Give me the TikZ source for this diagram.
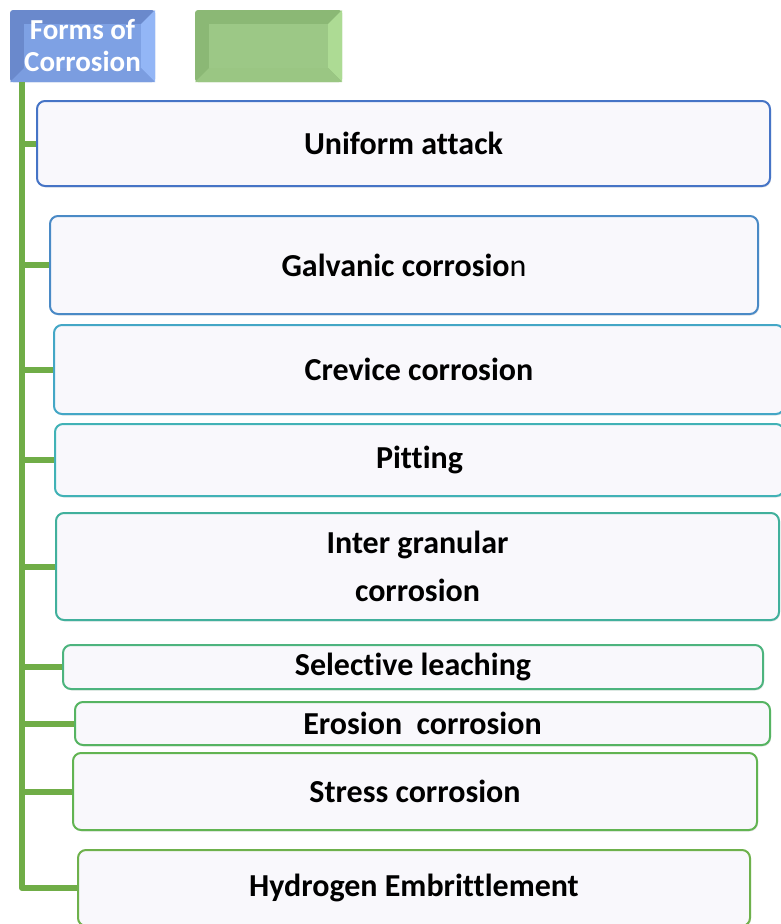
\documentclass[tikz,border=0pt]{standalone}
\usepackage{fontspec}
\setmainfont{Carlito}[Ligatures=NoCommon]
\usetikzlibrary{shadows}
\definecolor{trunkgreen}{HTML}{70AD47}
\definecolor{boxfill}{HTML}{F9F8FC}
\definecolor{cA}{HTML}{4674C6}
\definecolor{cB}{HTML}{4A8AC6}
\definecolor{cC}{HTML}{44A7C6}
\definecolor{cD}{HTML}{41B2B6}
\definecolor{cE}{HTML}{41B09C}
\definecolor{cF}{HTML}{4DB47E}
\definecolor{cG}{HTML}{56B462}
\definecolor{cH}{HTML}{62B452}
\definecolor{cI}{HTML}{6EB14C}
\definecolor{headmid}{HTML}{7EA1E4}
\definecolor{headdark}{HTML}{6A89CC}
\definecolor{headlight}{HTML}{93B6F6}
\definecolor{blankmid}{HTML}{9CC886}
\definecolor{blankdark}{HTML}{8BB875}
\definecolor{blanklight}{HTML}{ADDB94}
\tikzset{
  item/.style={draw, fill=boxfill, line width=2pt, rounded corners=8pt, align=center,
    inner sep=0pt, drop shadow={opacity=0.18, shadow xshift=1pt, shadow yshift=-1.5pt}},
  trunk/.style={draw=trunkgreen, line width=6pt}
}
\begin{document}
\begin{tikzpicture}[x=1pt, y=-1pt, line join=round, line cap=round,
    font=\bfseries\fontsize{32}{48}\selectfont]
  \useasboundingbox (0,0) rectangle (781,924);
  % bevelled header boxes
  \fill[headdark, rounded corners=3pt] (10,10) rectangle (155,82);
  \fill[headlight] (155,10) -- (141,24) -- (141,68) -- (155,82) -- cycle;
  \fill[headmid] (24,24) rectangle (141,68);
  \fill[headmid!85!headdark] (10,82) -- (24,68) -- (141,68) -- (155,82) -- cycle;
  \node[minimum width=145pt, minimum height=72pt, inner sep=0pt, align=center, text=white,
    font=\bfseries\fontsize{29}{32}\selectfont] (head) at (82.5,46) {Forms of\\Corrosion};
  \fill[blankdark, rounded corners=3pt] (195,10) rectangle (342,82);
  \fill[blanklight] (342,10) -- (328,24) -- (328,68) -- (342,82) -- cycle;
  \fill[blankmid] (209,24) rectangle (328,68);
  \fill[blankmid!85!blankdark] (195,82) -- (209,68) -- (328,68) -- (342,82) -- cycle;
  \node[minimum width=147pt, minimum height=72pt, inner sep=0pt] (blank) at (268.5,46) {};
  % the forms
  \foreach \nm/\l/\t/\r/\b/\col/\txt in {
      uni/37/101/770/186/cA/{Uniform attack},
      gal/50/216/758/314/cB/{Galvanic corrosio{\mdseries n}},
      cre/54/325/784/414/cC/{Crevice corrosion},
      pit/55/424/784/496/cD/{Pitting},
      igc/56/513/779/620/cE/{Inter granular\\corrosion},
      sel/63/645/763/689/cF/{Selective leaching},
      ero/75/702/770/745/cG/{Erosion~ corrosion},
      str/73/753/757/830/cH/{Stress corrosion},
      hyd/78/850/750/926/cI/{Hydrogen Embrittlement}}{
    \pgfmathsetmacro\boxw{\r-\l}\pgfmathsetmacro\boxh{\b-\t}
    \node[item, draw=\col, minimum width=\boxw pt, minimum height=\boxh pt] (\nm) at ({(\l+\r)/2},{(\t+\b)/2}) {\txt};
  }
  \coordinate (trunktop) at (22,82);
  \draw[trunk, line cap=butt] (trunktop) |- (hyd.west);
  \foreach \nm in {uni,gal,cre,pit,igc,sel,ero,str}
    \draw[trunk, line cap=butt] (trunktop |- \nm.west) -- (\nm.west);
\end{tikzpicture}
\end{document}
